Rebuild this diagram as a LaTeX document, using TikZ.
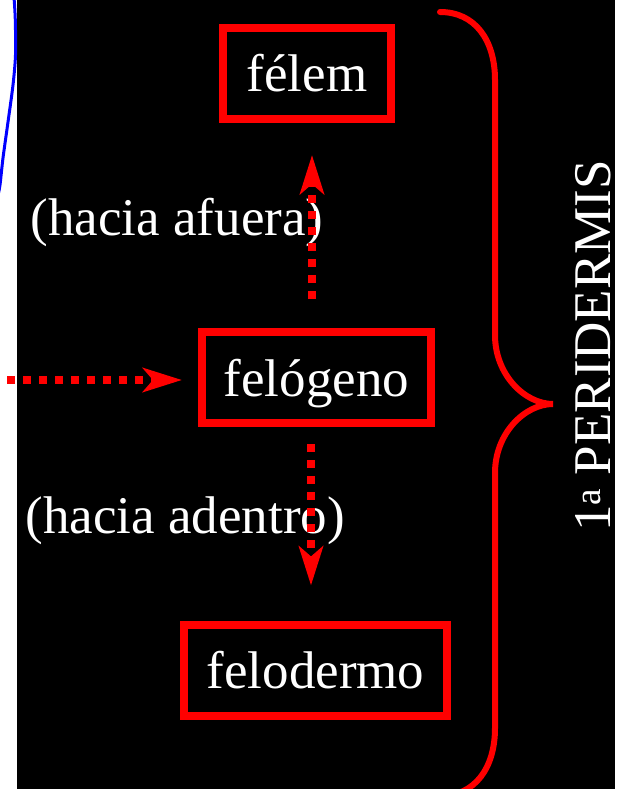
\documentclass[tikz,border=0pt]{standalone}
\usepackage{fontspec}
\setmainfont{Liberation Serif}
\usetikzlibrary{arrows.meta}
\begin{document}
\begin{tikzpicture}[x=1pt,y=-1pt,
  box/.style={draw=red, line width=8pt, text=white, inner sep=0pt,
    text height=37pt, text depth=0pt, minimum height=91pt,
    font=\fontsize{53}{60}\selectfont},
  lbl/.style={text=white, inner sep=0pt, font=\fontsize{53}{60}\selectfont},
  dotarrow/.style={draw=red, line width=8pt, dash pattern=on 8pt off 8pt,
    -{Stealth[length=39pt,width=24pt,inset=10pt]}},
  bracestyle/.style={draw=red, line width=6pt, line cap=round}]
\useasboundingbox (0,0) rectangle (627,789);
\clip (0,0) rectangle (627,789);
\fill[white] (0,0) rectangle (627,789);
\fill[black] (17,0) rectangle (615,789);
% blue curve on the left margin
\draw[blue, line width=3pt] plot[smooth] coordinates
  {(14,-3) (15.3,20) (15.5,55) (13,85) (8,122) (3,158) (0,185) (-2,195)};
% boxes
\node[box, minimum width=168pt] (felem) at (307,73.5) {félem};
\node[box, minimum width=229pt] (felogeno) at (316.5,377.5) {felógeno};
\node[box, minimum width=263pt] (felodermo) at (315.5,670) {felodermo};
% side labels
\node[lbl, anchor=base west] (afuera) at (30.5,235) {(hacia afuera)};
\node[lbl, anchor=base west] (adentro) at (25.5,533) {(hacia adentro)};
% connectors
\coordinate (src) at (7,380);
\coordinate (upx) at (312,0);
\coordinate (downx) at (311,0);
\draw[dotarrow, shorten >=16pt] (src) -- (felogeno.west |- src);
\draw[dotarrow, shorten <=29pt, shorten >=32pt] (felogeno.north -| upx) -- (felem.south -| upx);
\draw[dotarrow, shorten <=17pt, shorten >=35pt] (felogeno.south -| downx) -- (felodermo.north -| downx);
% brace
\draw[bracestyle] (440,12) .. controls (475,12) and (495,40) .. (495,80)
  -- (495,335) .. controls (495,375) and (525,404) .. (553,404)
  .. controls (525,404) and (495,433) .. (495,473)
  -- (495,728) .. controls (495,768) and (475,796) .. (440,796);
\node[lbl, rotate=90, anchor=base] (peri) at (610,346) {1\textsuperscript{a} PERIDERMIS};
\end{tikzpicture}
\end{document}
